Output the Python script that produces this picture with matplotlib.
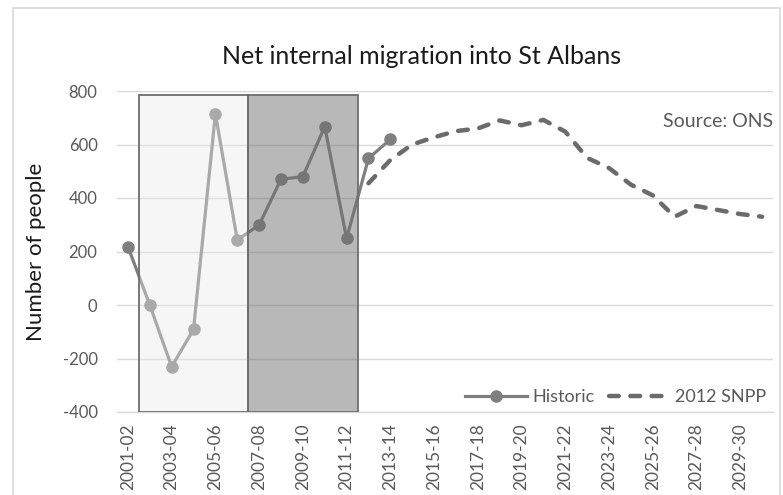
import matplotlib
matplotlib.use("Agg")
import matplotlib.pyplot as plt
from matplotlib.patches import Rectangle

years = ["2001-02", "2002-03", "2003-04", "2004-05", "2005-06", "2006-07",
         "2007-08", "2008-09", "2009-10", "2010-11", "2011-12", "2012-13",
         "2013-14", "2014-15", "2015-16", "2016-17", "2017-18", "2018-19",
         "2019-20", "2020-21", "2021-22", "2022-23", "2023-24", "2024-25",
         "2025-26", "2026-27", "2027-28", "2028-29", "2029-30", "2030-31"]

historic = [218, 0, -231, -91, 715, 243, 299, 470, 480, 667, 249, 548, 619]

snpp_start = 11
snpp = [455, 542, 600, 627, 650, 660, 690, 672, 692, 648, 550, 512, 450,
        410, 330, 370, 355, 340, 330]

plt.rcParams["font.family"] = ["Lato", "DejaVu Sans"]
plt.rcParams["axes.unicode_minus"] = False

fig = plt.figure(figsize=(7.83, 4.95), dpi=100)
ax = fig.add_axes([117 / 783, 1 - 412 / 495, 656 / 783, 321 / 495])

# chart area border
fig.patches.append(Rectangle((13 / 783, -0.05), 767 / 783, 1.05 - 8 / 495,
                             transform=fig.transFigure, fill=False,
                             edgecolor="#d9d9d9", linewidth=1.2))

x_hist = list(range(len(historic)))
x_snpp = list(range(snpp_start, snpp_start + len(snpp)))

ax.plot(x_hist, historic, color="#7f7f7f", linewidth=2.3, marker="o",
        markersize=8, label="Historic", zorder=3)
ax.plot(x_snpp, snpp, color="#6b6b6b", linewidth=3.2, linestyle=(0, (2.2, 2.6)),
        dash_capstyle="round", label="2012 SNPP", zorder=3)

# shaded boxes drawn over the line, like the original
ax.add_patch(Rectangle((0.5, -400), 5, 1185, facecolor="#eaeaea", alpha=0.4,
                       edgecolor="none", zorder=4))
ax.add_patch(Rectangle((5.5, -400), 5, 1185, facecolor="#6e6e6e", alpha=0.49,
                       edgecolor="none", zorder=4))
ax.add_patch(Rectangle((0.5, -400), 5, 1185, facecolor="none",
                       edgecolor="#6e6e6e", linewidth=1.3, zorder=5))
ax.add_patch(Rectangle((5.5, -400), 5, 1185, facecolor="none",
                       edgecolor="#6e6e6e", linewidth=1.3, zorder=5))

ax.set_xlim(-0.5, len(years) - 0.5)
ax.set_ylim(-400, 800)
ax.set_yticks(range(-400, 801, 200))
ax.set_xticks(range(0, len(years), 2))
ax.set_xticklabels(years[::2], rotation=90, fontsize=12.5, color="#595959")
ax.tick_params(axis="y", labelsize=12, labelcolor="#595959", length=0, pad=14)
ax.tick_params(axis="x", length=0, pad=8)
ax.grid(axis="y", color="#d9d9d9", linewidth=1)
ax.set_axisbelow(True)
for side in ["left", "right", "top"]:
    ax.spines[side].set_visible(False)
ax.spines["bottom"].set_color("#d9d9d9")
ax.spines["bottom"].set_linewidth(1)

ax.set_ylabel("Number of people", fontsize=16, color="#1a1a1a", labelpad=12)
fig.text(422 / 783, 1 - 57 / 495, "Net internal migration into St Albans",
         ha="center", va="center", fontsize=18, color="#1a1a1a")
ax.text(1.0, 0.905, "Source: ONS", transform=ax.transAxes, ha="right",
        va="center", fontsize=14, color="#595959")

ax.legend(loc="lower right", ncol=2, frameon=False, fontsize=13,
          handlelength=3.4, columnspacing=0.8, handletextpad=0.3,
          labelcolor="#595959", bbox_to_anchor=(1.015, -0.03))

fig.savefig("out.png", dpi=100)
